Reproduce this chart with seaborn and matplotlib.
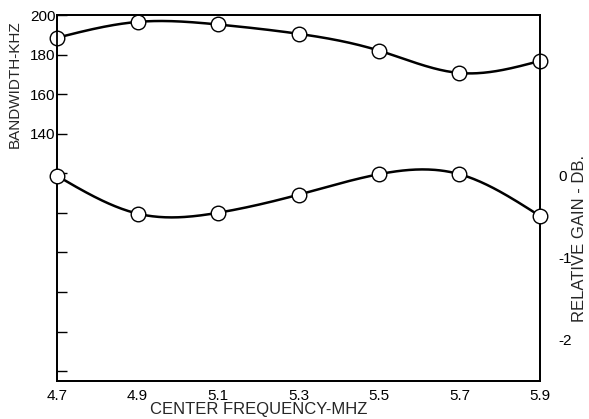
import numpy as np
import pandas as pd
import matplotlib
matplotlib.use("Agg")
import matplotlib.pyplot as plt
import seaborn as sns

freq = [4.7, 4.9, 5.1, 5.3, 5.5, 5.7, 5.9]
bandwidth = [188.5, 196.5, 195.2, 190.5, 182.0, 170.7, 176.8]
gain = [0.0, -0.46, -0.45, -0.23, 0.02, 0.02, -0.49]

x_ticks = [4.7, 4.9, 5.1, 5.3, 5.5, 5.7, 5.9]
bw_ticks = [20, 40, 60, 80, 100, 120, 140, 160, 180, 200]
bw_labels = ["", "", "", "", "", "", "140", "160", "180", "200"]
gain_ticks = [-2, -1, 0]
gain_labels = ["-2", "-1", "0"]


def natural_spline(x, y, xs):
    # smooth curve through the measured points
    x = np.asarray(x, float)
    y = np.asarray(y, float)
    n = len(x)
    h = np.diff(x)
    A = np.zeros((n, n))
    b = np.zeros(n)
    A[0, 0] = A[-1, -1] = 1
    for i in range(1, n - 1):
        A[i, i - 1] = h[i - 1]
        A[i, i] = 2 * (h[i - 1] + h[i])
        A[i, i + 1] = h[i]
        b[i] = 6 * ((y[i + 1] - y[i]) / h[i] - (y[i] - y[i - 1]) / h[i - 1])
    m = np.linalg.solve(A, b)
    idx = np.clip(np.searchsorted(x, xs) - 1, 0, n - 2)
    t = xs - x[idx]
    hi = h[idx]
    a = (m[idx + 1] - m[idx]) / (6 * hi)
    bb = m[idx] / 2
    c = (y[idx + 1] - y[idx]) / hi - hi * (2 * m[idx] + m[idx + 1]) / 6
    return y[idx] + c * t + bb * t ** 2 + a * t ** 3


sns.set_theme(style="white")
plt.rcParams["font.family"] = ["Liberation Sans", "DejaVu Sans"]

fig = plt.figure(figsize=(5.89, 4.19), dpi=100)
ax = fig.add_axes([0.0968, 0.0907, 0.8200, 0.8735])
ax2 = ax.twinx()

xs = np.linspace(4.7, 5.9, 300)
curve_bw = pd.DataFrame({"f": xs, "v": natural_spline(freq, bandwidth, xs)})
curve_gain = pd.DataFrame({"f": xs, "v": natural_spline(freq, gain, xs)})
pts_bw = pd.DataFrame({"f": freq, "v": bandwidth})
pts_gain = pd.DataFrame({"f": freq, "v": gain})

sns.lineplot(data=curve_bw, x="f", y="v", ax=ax, color="black", lw=1.8)
sns.scatterplot(data=pts_bw, x="f", y="v", ax=ax, s=110, color="white",
                edgecolor="black", linewidth=1.0, zorder=5, clip_on=False)
sns.lineplot(data=curve_gain, x="f", y="v", ax=ax2, color="black", lw=1.8)
sns.scatterplot(data=pts_gain, x="f", y="v", ax=ax2, s=110, color="white",
                edgecolor="black", linewidth=1.0, zorder=5, clip_on=False)

ax.set_xlim(4.7, 5.9)
ax.set_ylim(15, 200)
ax2.set_ylim(-2.5, 1.96)

ax.set_xticks(x_ticks)
ax.set_xticklabels([str(v) for v in x_ticks], fontsize=11)
ax.set_yticks(bw_ticks)
ax.set_yticklabels(bw_labels, fontsize=11)
ax2.set_yticks(gain_ticks)
ax2.set_yticklabels(gain_labels, fontsize=11)

ax.tick_params(axis="x", direction="in", length=7, width=1, pad=6, colors="black")
ax.tick_params(axis="y", direction="in", length=7, width=1, pad=1, colors="black")
ax2.tick_params(axis="y", length=0, pad=13, colors="black")

ax.set_xlabel("")
ax.set_ylabel("")
ax2.set_xlabel("")
ax2.set_ylabel("")

for a in (ax, ax2):
    for sp in a.spines.values():
        sp.set_color("black")
        sp.set_linewidth(1.3)

fig.text(0.025, 0.80, "BANDWIDTH-KHZ", rotation=90, ha="center", va="center",
         fontsize=11)
fig.text(0.997, 0.43, "RELATIVE GAIN - DB.", rotation=90, ha="right",
         va="center", fontsize=12)
fig.text(0.44, 0.004, "CENTER FREQUENCY-MHZ", ha="center", va="bottom",
         fontsize=12)

fig.savefig("out.png", dpi=100)
plt.close(fig)
